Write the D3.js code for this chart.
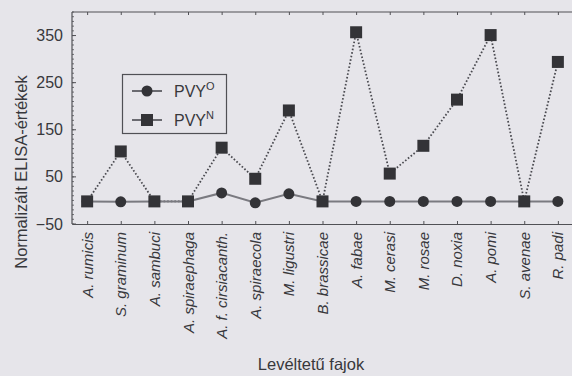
<!DOCTYPE html>
<html>
<head>
<meta charset="utf-8">
<script src="https://cdn.jsdelivr.net/npm/d3@7"></script>
<style>
  html, body { margin: 0; padding: 0; background: #e6e5ea; }
  svg { display: block; }
  text { font-family: "Liberation Sans", Arial, sans-serif; fill: #38383c; }
</style>
</head>
<body>
<script>
// Aphid species on the x axis
const species = [
  "A. rumicis", "S. graminum", "A. sambuci", "A. spiraephaga",
  "A. f. cirsiacanth.", "A. spiraecola", "M. ligustri", "B. brassicae",
  "A. fabae", "M. cerasi", "M. rosae", "D. noxia", "A. pomi",
  "S. avenae", "R. padi"
];
// Normalised ELISA values per strain
const pvyO = [-2, -3, -2, -2, 16, -5, 14, -2, -2, -2, -2, -2, -2, -2, -2];
const pvyN = [-2, 104, -2, -2, 112, 46, 191, -2, 357, 57, 116, 214, 351, -2, 294];
const yTicks = [-50, 50, 150, 250, 350];
const seriesNames = ["O", "N"];

const W = 572, H = 376;
const m = { left: 72, right: -1, top: 12, bottom: 152 };
const svg = d3.select("body").append("svg").attr("width", W).attr("height", H);

const x = d3.scalePoint().domain(species)
  .range([m.left, W - m.right]).padding(0.45);
const y = d3.scaleLinear().domain([-50, 400])
  .range([H - m.bottom, m.top]);

const frame = "#505055";
const g = svg.append("g");

// frame lines: left and top
g.append("line").attr("x1", m.left).attr("x2", m.left).attr("y1", m.top).attr("y2", y(-50))
  .attr("stroke", frame).attr("stroke-width", 1.2);
g.append("line").attr("x1", m.left).attr("x2", W + 5).attr("y1", m.top).attr("y2", m.top)
  .attr("stroke", frame).attr("stroke-width", 1.2);

// bottom axis with category ticks pointing inward
const xAxis = g.append("g").attr("transform", `translate(0,${y(-50)})`)
  .call(d3.axisBottom(x).tickSizeInner(-3).tickSizeOuter(0).tickFormat(""));
xAxis.select(".domain").attr("stroke", frame).attr("stroke-width", 1.2);
xAxis.selectAll(".tick line").attr("stroke", frame);

// top mirrored ticks
const xTop = g.append("g").attr("transform", `translate(0,${m.top})`)
  .call(d3.axisTop(x).tickSizeInner(-3).tickSizeOuter(0).tickFormat(""));
xTop.select(".domain").remove();
xTop.selectAll(".tick line").attr("stroke", frame);

// species labels, rotated
xAxis.selectAll(".tick").append("text")
  .text(d => d)
  .attr("transform", "rotate(-90)")
  .attr("x", -8).attr("y", 5)
  .attr("text-anchor", "end")
  .style("font-style", "italic")
  .style("font-size", "15px");

// left axis: minor ticks inside, labels outside
const minor = d3.range(-50, 401, 10);
g.selectAll(".minor").data(minor).join("line")
  .attr("x1", m.left).attr("x2", m.left + 2)
  .attr("y1", d => y(d)).attr("y2", d => y(d))
  .attr("stroke", frame).attr("stroke-width", 0.8);
g.selectAll(".major").data(yTicks).join("line")
  .attr("x1", m.left).attr("x2", m.left + 4)
  .attr("y1", d => y(d)).attr("y2", d => y(d))
  .attr("stroke", frame).attr("stroke-width", 1);
g.selectAll(".ylab").data(yTicks).join("text")
  .attr("x", m.left - 9).attr("y", d => y(d)).attr("dy", "0.35em")
  .attr("text-anchor", "end")
  .style("font-size", "16px")
  .text(d => d < 0 ? "\u2212" + Math.abs(d) : d);

// axis titles
svg.append("text")
  .attr("transform", `translate(27,${172}) rotate(-90)`)
  .attr("text-anchor", "middle").style("font-size", "16.5px")
  .text("Normalizált ELISA-értékek");
svg.append("text")
  .attr("x", 311).attr("y", 370)
  .attr("text-anchor", "middle").style("font-size", "16.5px")
  .text("Levéltetű fajok");

// PVY-N: dotted line; PVY-O: solid gray line
const line = d3.line().x((d, i) => x(species[i])).y(d => y(d));
svg.append("path").datum(pvyN).attr("d", line)
  .attr("fill", "none").attr("stroke", "#4a4a50").attr("stroke-width", 1.8)
  .attr("stroke-dasharray", "1.6,2");
svg.append("path").datum(pvyO).attr("d", line)
  .attr("fill", "none").attr("stroke", "#7a7a80").attr("stroke-width", 2);

// markers: dots first, squares on top where both coincide
const mark = "#333337";
svg.selectAll(".dot").data(pvyO).join("circle")
  .attr("cx", (d, i) => x(species[i])).attr("cy", d => y(d))
  .attr("r", 5.5).attr("fill", mark);
svg.selectAll(".sq").data(pvyN).join("rect")
  .attr("x", (d, i) => x(species[i]) - 6).attr("y", d => y(d) - 6)
  .attr("width", 12).attr("height", 12).attr("fill", mark);

// legend
const lg = svg.append("g");
lg.append("rect").attr("x", 122.5).attr("y", 74.5).attr("width", 104).attr("height", 59)
  .attr("fill", "none").attr("stroke", frame).attr("stroke-width", 1.2);
const rows = [91, 120];
seriesNames.forEach((s, i) => {
  const ry = rows[i];
  lg.append("line").attr("x1", 132).attr("x2", 162).attr("y1", ry).attr("y2", ry)
    .attr("stroke", "#6a6a70").attr("stroke-width", 2);
  if (i === 0) lg.append("circle").attr("cx", 147).attr("cy", ry).attr("r", 5.5).attr("fill", mark);
  else lg.append("rect").attr("x", 141).attr("y", ry - 6).attr("width", 12).attr("height", 12).attr("fill", mark);
  const t = lg.append("text").attr("x", 174).attr("y", ry + 6).style("font-size", "16px");
  t.append("tspan").text("PVY");
  t.append("tspan").attr("dy", -7).style("font-size", "11px").text(s);
});
</script>
</body>
</html>
